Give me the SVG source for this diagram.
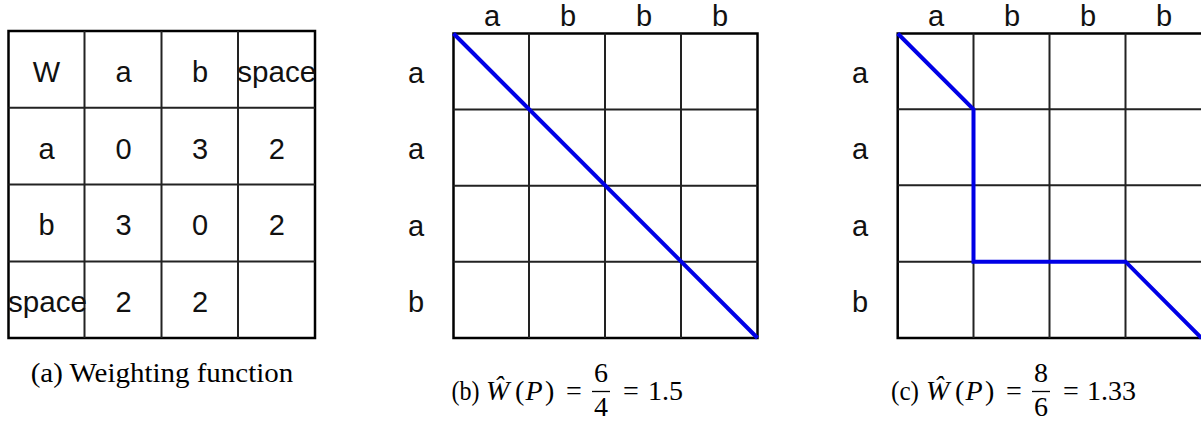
<svg xmlns="http://www.w3.org/2000/svg" width="1201" height="421" viewBox="0 0 1201 421">
<style>
.bg{fill:#fff}
.outer{fill:none;stroke:#000;stroke-width:2.5}
.inner{stroke:#222;stroke-width:2;fill:none}
.lbl{font-family:"Liberation Sans",Arial,sans-serif;font-size:29px;fill:#111;text-anchor:middle}
.cap{font-family:"Liberation Serif","Times New Roman",serif;font-size:27px;fill:#000}
.eq{font-family:"Liberation Serif","Times New Roman",serif;font-size:28px;fill:#000}
.it{font-style:italic}
.bar{stroke:#000;stroke-width:1.3}
.path{fill:none;stroke:#0000e6;stroke-width:4;stroke-linejoin:miter}
</style>
<rect class="bg" x="0" y="0" width="1201" height="421"/>

<g id="table">
  <rect class="outer" x="8.5" y="31" width="306.5" height="307"/>
  <path class="inner" d="M84.5 31V338M161.5 31V338M238 31V338M8.5 107.7H315M8.5 184.5H315M8.5 261.5H315"/>
  <text class="lbl" x="46.5" y="82">W</text>
  <text class="lbl" x="123.5" y="82">a</text>
  <text class="lbl" x="200" y="82">b</text>
  <text class="lbl" x="276.7" y="82" textLength="79" lengthAdjust="spacingAndGlyphs">space</text>
  <text class="lbl" x="46.5" y="158.5">a</text>
  <text class="lbl" x="123.5" y="158.5">0</text>
  <text class="lbl" x="200" y="158.5">3</text>
  <text class="lbl" x="276.7" y="158.5">2</text>
  <text class="lbl" x="46.5" y="235">b</text>
  <text class="lbl" x="123.5" y="235">3</text>
  <text class="lbl" x="200" y="235">0</text>
  <text class="lbl" x="276.7" y="235">2</text>
  <text class="lbl" x="47.5" y="311.7" textLength="79" lengthAdjust="spacingAndGlyphs">space</text>
  <text class="lbl" x="123.5" y="311.7">2</text>
  <text class="lbl" x="200" y="311.7">2</text>
</g>
<g id="caption-a">
  <text class="cap" x="30.7" y="381.7" textLength="262.5" lengthAdjust="spacingAndGlyphs">(a) Weighting function</text>
</g>

<g id="grid-b">
  <rect class="outer" x="453.5" y="33.5" width="304" height="304.5"/>
  <path class="inner" d="M529 33.5V338M605 33.5V338M681 33.5V338M453.5 109.5H757.5M453.5 185.7H757.5M453.5 261.7H757.5"/>
  <text class="lbl" x="492" y="26">a</text>
  <text class="lbl" x="568" y="26">b</text>
  <text class="lbl" x="644" y="26">b</text>
  <text class="lbl" x="720" y="26">b</text>
  <text class="lbl" x="416" y="83.3">a</text>
  <text class="lbl" x="416" y="159.3">a</text>
  <text class="lbl" x="416" y="235.7">a</text>
  <text class="lbl" x="416" y="311.7">b</text>
</g>
<g id="caption-b">
  <text class="eq" x="451.5" y="400" textLength="28" lengthAdjust="spacingAndGlyphs">(b)</text>
  <text class="eq it" x="486" y="400">Ŵ</text>
  <text class="eq" y="400"><tspan x="515">(</tspan><tspan class="it" x="525.5">P</tspan><tspan x="545">)</tspan></text>
  <text class="eq" x="566" y="400">=</text>
  <text class="eq" x="601" y="381.5" text-anchor="middle">6</text>
  <line class="bar" x1="592" y1="391.5" x2="610" y2="391.5"/>
  <text class="eq" x="601" y="416" text-anchor="middle">4</text>
  <text class="eq" x="623" y="400">=</text>
  <text class="eq" x="648" y="400">1.5</text>
</g>

<g id="grid-c">
  <path class="outer" d="M1202 33.5H897.7V338H1202"/>
  <path class="inner" d="M973.5 33.5V338M1049.5 33.5V338M1125.5 33.5V338M897.7 109.3H1202M897.7 185.3H1202M897.7 261.7H1202"/>
  <text class="lbl" x="936" y="26">a</text>
  <text class="lbl" x="1012" y="26">b</text>
  <text class="lbl" x="1088" y="26">b</text>
  <text class="lbl" x="1164" y="26">b</text>
  <text class="lbl" x="860" y="83.3">a</text>
  <text class="lbl" x="860" y="159.3">a</text>
  <text class="lbl" x="860" y="235.7">a</text>
  <text class="lbl" x="860" y="311.7">b</text>
</g>
<g id="caption-c">
  <text class="eq" x="891" y="400" textLength="28" lengthAdjust="spacingAndGlyphs">(c)</text>
  <text class="eq it" x="926" y="400">Ŵ</text>
  <text class="eq" y="400"><tspan x="955">(</tspan><tspan class="it" x="965.5">P</tspan><tspan x="985">)</tspan></text>
  <text class="eq" x="1006" y="400">=</text>
  <text class="eq" x="1041" y="381.5" text-anchor="middle">8</text>
  <line class="bar" x1="1032" y1="391.5" x2="1050" y2="391.5"/>
  <text class="eq" x="1041" y="416" text-anchor="middle">6</text>
  <text class="eq" x="1063" y="400">=</text>
  <text class="eq" x="1087" y="400">1.33</text>
</g>

<g id="connectors">
  <path class="path" d="M453.5 33.5L757.5 338"/>
  <path class="path" d="M897.7 33.5L973.5 109.3V261.7H1125.5L1201.5 338"/>
</g>
</svg>
